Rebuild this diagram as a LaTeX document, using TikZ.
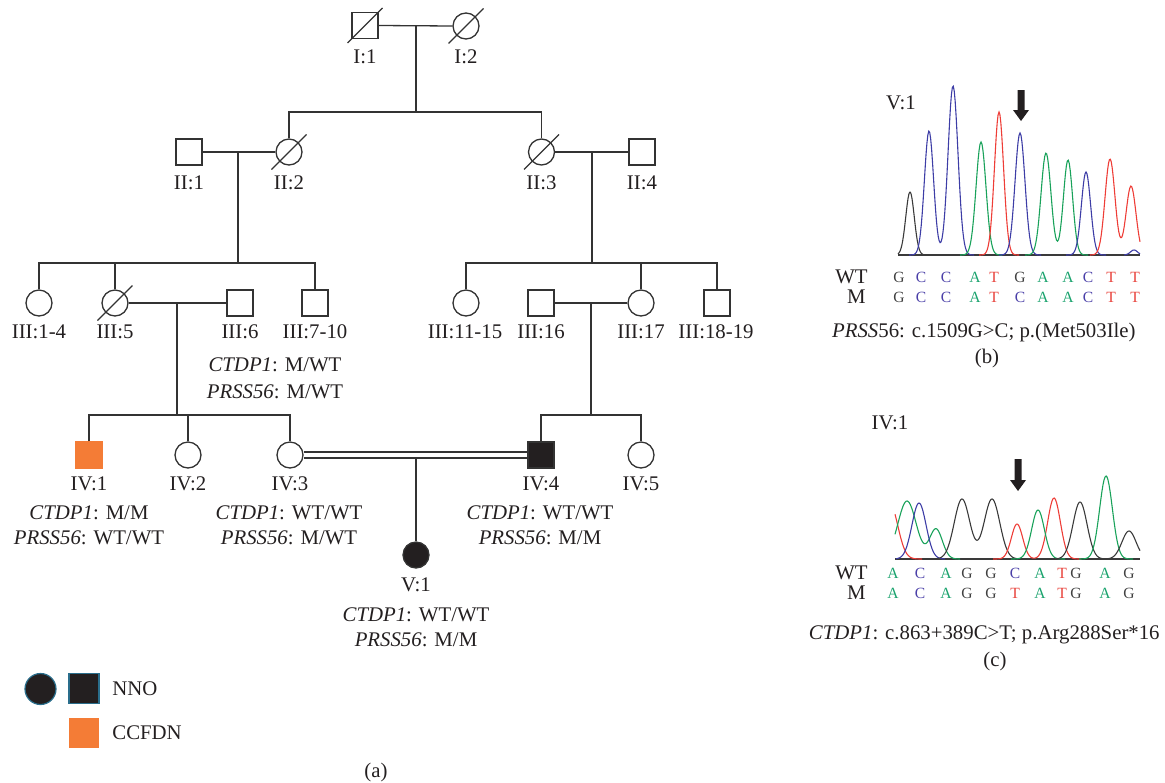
\documentclass[tikz,border=0pt]{standalone}
\usepackage{fontspec}
\setmainfont{Liberation Serif}
\definecolor{ink}{HTML}{333333}
\definecolor{txt}{HTML}{231F20}
\definecolor{aff}{HTML}{231F20}
\definecolor{ccfdn}{HTML}{F47C36}
\definecolor{legedge}{HTML}{2A6E8C}
\definecolor{tblue}{HTML}{3D3DA6}
\definecolor{tgreen}{HTML}{19A25A}
\definecolor{tred}{HTML}{EE3D37}
\definecolor{tblack}{HTML}{3A3A3A}
\definecolor{sA}{HTML}{1BA36E}
\definecolor{sC}{HTML}{4B40A8}
\definecolor{sG}{HTML}{404040}
\definecolor{sT}{HTML}{E8433C}
\begin{document}
\begin{tikzpicture}[x=0.5pt,y=-0.5pt,
  every node/.style={font=\fontsize{10.4}{12.5}\selectfont, inner sep=0pt, text=txt},
  ln/.style={draw=ink, line width=0.65pt},
  sq/.style={rectangle, draw=ink, line width=0.65pt, minimum size=13pt},
  ci/.style={circle, draw=ink, line width=0.65pt, minimum size=13pt},
  lab/.style={},
  geno/.style={align=center, font=\fontsize{10.4}{12.6}\selectfont},
  seq/.style={font=\fontsize{7.8}{9}\selectfont},
  trace/.style={line width=0.55pt},
  dead/.style={draw=ink, line width=0.65pt}]
\path[use as bounding box] (0,0) rectangle (1165,782);

% ---------- Generation I
\node[sq] (I1) at (365,25.5) {};
\node[ci] (I2) at (466,26) {};
\node[lab] (lI1) at (365,57) {I:1};
\node[lab] (lI2) at (466,57) {I:2};
% ---------- Generation II
\node[sq] (II1) at (189,152) {};
\node[ci] (II2) at (289,152) {};
\node[ci] (II3) at (541.5,152) {};
\node[sq] (II4) at (642,152) {};
\node[lab] (lII1) at (189,183) {II:1};
\node[lab] (lII2) at (289,183) {II:2};
\node[lab] (lII3) at (541.5,183) {II:3};
\node[lab] (lII4) at (642,183) {II:4};
% ---------- Generation III
\node[ci] (III1) at (39,303) {};
\node[ci] (III5) at (115,303) {};
\node[sq] (III6) at (240,303) {};
\node[sq] (III7) at (315,303) {};
\node[ci] (III11) at (466,303) {};
\node[sq] (III16) at (541,303) {};
\node[ci] (III17) at (641,303) {};
\node[sq] (III18) at (717,303) {};
\node[lab] (lIII1) at (39,332) {III:1-4};
\node[lab] (lIII5) at (115,332) {III:5};
\node[lab] (lIII6) at (240,332) {III:6};
\node[lab] (lIII7) at (315,332) {III:7-10};
\node[lab] (lIII11) at (465,332) {III:11-15};
\node[lab] (lIII16) at (541,332) {III:16};
\node[lab] (lIII17) at (641,332) {III:17};
\node[lab] (lIII18) at (716,332) {III:18-19};
\node[geno, font=\fontsize{10.4}{13.4}\selectfont] (gIII6) at (275,378.5) {\textit{CTDP1}: M/WT\\\textit{PRSS56}: M/WT};
% ---------- Generation IV
\node[sq, draw=ccfdn, fill=ccfdn] (IV1) at (89,455) {};
\node[ci] (IV2) at (188,455) {};
\node[ci] (IV3) at (290,455) {};
\node[sq, fill=aff] (IV4) at (541,455) {};
\node[ci] (IV5) at (641,455) {};
\node[lab] (lIV1) at (89,484) {IV:1};
\node[lab] (lIV2) at (188,484) {IV:2};
\node[lab] (lIV3) at (290,484) {IV:3};
\node[lab] (lIV4) at (541,484) {IV:4};
\node[lab] (lIV5) at (641,484) {IV:5};
\node[geno] (gIV1) at (89,525.5) {\textit{CTDP1}: M/M\\\textit{PRSS56}: WT/WT};
\node[geno] (gIV3) at (289,525.5) {\textit{CTDP1}: WT/WT\\\textit{PRSS56}: M/WT};
\node[geno] (gIV4) at (540,525.5) {\textit{CTDP1}: WT/WT\\\textit{PRSS56}: M/M};
% ---------- Generation V
\node[ci, fill=aff] (V1) at (416,555) {};
\node[lab] (lV1) at (416,585) {V:1};
\node[geno] (gV1) at (416,627.5) {\textit{CTDP1}: WT/WT\\\textit{PRSS56}: M/M};

% ---------- deceased marks
\foreach \n in {I1,I2,II2,II3,III5}
  \draw[dead] (\n.center) ++(-17.5,17.5) -- ++(35,-35);

% ---------- connectors
\draw[ln] (I1.east) -- (I2.west);
\coordinate (mI) at (416,25.5);
\coordinate (sII) at (416,112);
\draw[ln] (mI) -- (sII);
\draw[ln] (II2.north) |- (sII) -| (II3.north);

\draw[ln] (II1.east) -- (II2.west);
\coordinate (mIIa) at (238,152);
\coordinate (sIIIa) at (238,263);
\draw[ln] (mIIa) -- (sIIIa);
\draw[ln] (III1.north) |- (sIIIa) -| (III7.north);
\draw[ln] (III5.north) -- (III5.north |- sIIIa);

\draw[ln] (II3.east) -- (II4.west);
\coordinate (mIIb) at (592,152);
\coordinate (sIIIb) at (592,263);
\draw[ln] (mIIb) -- (sIIIb);
\draw[ln] (III11.north) |- (sIIIb) -| (III18.north);
\draw[ln] (III17.north) -- (III17.north |- sIIIb);

\draw[ln] (III5.east) -- (III6.west);
\coordinate (mIIIa) at (177,303);
\coordinate (sIVa) at (177,415);
\draw[ln] (mIIIa) -- (sIVa);
\draw[ln] (IV1.north) |- (sIVa) -| (IV3.north);
\draw[ln] (IV2.north) -- (IV2.north |- sIVa);

\draw[ln] (III16.east) -- (III17.west);
\coordinate (mIIIb) at (591,303);
\coordinate (sIVb) at (591,415);
\draw[ln] (mIIIb) -- (sIVb);
\draw[ln] (IV4.north) |- (sIVb) -| (IV5.north);

\draw[ln, double=white, double distance=2.4pt] (IV3.east) -- (IV4.west);
\coordinate (mIV) at (416,458);
\draw[ln] (mIV) -- (V1.north);

% ---------- legend
\node[circle, fill=aff, draw=legedge, line width=0.6pt, minimum size=15.5pt] (legC) at (40.5,689) {};
\node[rectangle, fill=aff, draw=legedge, line width=0.6pt, minimum size=15pt] (legS) at (84,688.5) {};
\node[rectangle, fill=ccfdn, minimum size=15pt] (legO) at (84,733) {};
\node[anchor=west] (legNNO) at (112,689) {NNO};
\node[anchor=west] (legCC) at (112,733) {CCFDN};
\node (capA) at (376,772) {(a)};

% ---------- chromatogram (b)
\node (bV1) at (901,103) {V:1};
\draw[tblack, line width=0.6pt] (898,255) -- (1140,255);
\draw[trace, tblack] plot[domain=898:928, samples=40] (\x,{255-63*exp(-(((\x-910)/6)^2))});
\draw[trace, tblue] plot[domain=909:974, samples=70] (\x,{255-124*exp(-(((\x-929)/6.5)^2))-169*exp(-(((\x-953)/7)^2))});
\draw[trace, tgreen] plot[domain=960:1002, samples=45] (\x,{255-113*exp(-(((\x-981)/7)^2))});
\draw[trace, tred] plot[domain=979:1019, samples=45] (\x,{255-143*exp(-(((\x-999)/6.5)^2))});
\draw[trace, tblue] plot[domain=999:1041, samples=45] (\x,{255-122*exp(-(((\x-1020)/7)^2))});
\draw[trace, tgreen] plot[domain=1025:1088, samples=65] (\x,{255-102*exp(-(((\x-1046)/7)^2))-95*exp(-(((\x-1068)/6.5)^2))});
\draw[trace, tblue] plot[domain=1066:1106, samples=45] (\x,{255-83*exp(-(((\x-1086)/6.5)^2))});
\draw[trace, tred] plot[domain=1090:1140, samples=55] (\x,{255-96*exp(-(((\x-1110)/7)^2))-69*exp(-(((\x-1131)/7)^2))});
\draw[trace, tblue] plot[domain=1124:1140, samples=20] (\x,{255-5*exp(-(((\x-1134)/5)^2))});
\fill[aff] (1017.5,90) -- (1024.5,90) -- (1024.5,110) -- (1029,110) -- (1021,121) -- (1013,110) -- (1017.5,110) -- cycle;
\node[anchor=east] (bWT) at (868,277) {WT};
\node[anchor=east] (bM) at (866,297) {M};
\foreach \x/\l/\c [count=\i] in {899/G/sG,921/C/sC,946/C/sC,975/A/sA,994/T/sT,1020/G/sG,1043/A/sA,1068/A/sA,1088/C/sC,1111/T/sT,1135/T/sT}
  \node[seq, text=\c] (bw\i) at (\x,277) {\l};
\foreach \x/\l/\c [count=\i] in {899/G/sG,921/C/sC,946/C/sC,975/A/sA,994/T/sT,1020/C/sC,1043/A/sA,1068/A/sA,1088/C/sC,1111/T/sT,1135/T/sT}
  \node[seq, text=\c] (bm\i) at (\x,297) {\l};
\node[anchor=east] (bcap) at (1136,332) {\textit{PRSS}56: c.1509G>C; p.(Met503Ile)};
\node (capB) at (987,358) {(b)};

% ---------- chromatogram (c)
\node (cIV1) at (890,423) {IV:1};
\draw[tblack, line width=0.6pt] (895,559) -- (1140,559);
\draw[trace, tred] plot[domain=895:922, samples=30] (\x,{559-55*exp(-(((\x-890)/11)^2))});
\draw[trace, tgreen] plot[domain=895:960, samples=65] (\x,{559-58*exp(-(((\x-907)/13)^2))-30*exp(-(((\x-936)/9)^2))});
\draw[trace, tblue] plot[domain=896:945, samples=50] (\x,{559-56*exp(-(((\x-919)/10)^2))});
\draw[trace, tblack] plot[domain=935:1020, samples=80] (\x,{559-60*exp(-(((\x-962)/11)^2))-60*exp(-(((\x-992)/11)^2))});
\draw[trace, tred] plot[domain=993:1081, samples=80] (\x,{559-35*exp(-(((\x-1017)/8)^2))-61*exp(-(((\x-1054)/9)^2))});
\draw[trace, tgreen] plot[domain=1011:1065, samples=55] (\x,{559-49*exp(-(((\x-1038)/9)^2))});
\draw[trace, tblack] plot[domain=1050:1110, samples=60] (\x,{559-57*exp(-(((\x-1080)/10)^2))});
\draw[trace, tgreen] plot[domain=1079:1133, samples=55] (\x,{559-83*exp(-(((\x-1106)/9)^2))});
\draw[trace, tblack] plot[domain=1105:1140, samples=40] (\x,{559-28*exp(-(((\x-1129)/10)^2))});
\fill[aff] (1014.5,459) -- (1021.5,459) -- (1021.5,480) -- (1026,480) -- (1018,491) -- (1010,480) -- (1014.5,480) -- cycle;
\node[anchor=east] (cWT) at (868,573) {WT};
\node[anchor=east] (cM) at (866,593) {M};
\foreach \x/\l/\c [count=\i] in {893/A/sA,920/C/sC,946/A/sA,967/G/sG,991/G/sG,1015/C/sC,1040/A/sA,1062/T/sT,1076/G/sG,1105/A/sA,1129/G/sG}
  \node[seq, text=\c] (cw\i) at (\x,573) {\l};
\foreach \x/\l/\c [count=\i] in {893/A/sA,920/C/sC,946/A/sA,967/G/sG,991/G/sG,1015/T/sT,1040/A/sA,1062/T/sT,1076/G/sG,1105/A/sA,1129/G/sG}
  \node[seq, text=\c] (cm\i) at (\x,593) {\l};
\node[anchor=east] (ccap) at (1160,635) {\textit{CTDP1}: c.863+389C>T; p.Arg288Ser*16};
\node (capC) at (995,661) {(c)};
\end{tikzpicture}
\end{document}
